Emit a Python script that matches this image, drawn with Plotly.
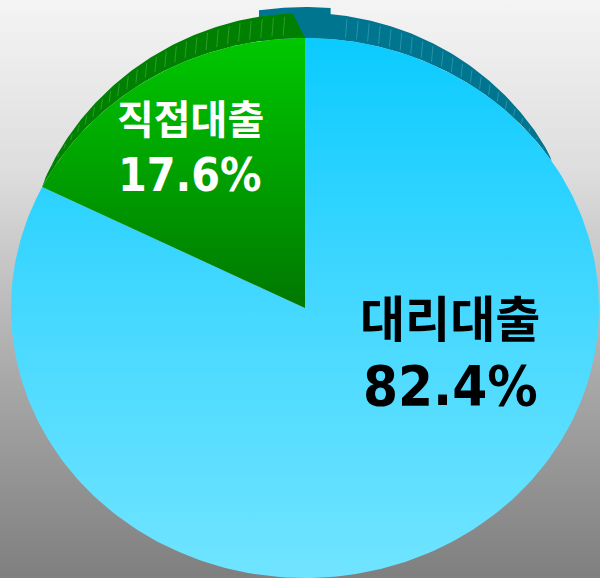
import numpy as np
import plotly.graph_objects as go

# ---- data ----
labels = ["직접대출", "대리대출"]
values = [17.6, 82.4]
label_colors = ["#ffffff", "#000000"]

# ---- geometry / style (pixel-like chart units) ----
W, H = 600, 578
cx, cy, rx, ry = 305, 308, 294, 270
depth = 25

def pt(theta_deg, lift=0.0):
    t = np.radians(theta_deg)
    return cx + rx * np.sin(t), cy - ry * np.cos(t) - lift

total = sum(values)
green_span = 360.0 * values[0] / total
g_start, g_end = -green_span, 0.0
b_start, b_end = 0.0, 360.0 - green_span

fig = go.Figure()

fig.add_trace(go.Scatter(
    x=[0, W, W, 0, 0], y=[0, 0, H, H, 0], mode="lines", fill="toself",
    line=dict(width=0), hoverinfo="skip",
    fillgradient=dict(type="vertical", start=0, stop=H,
                      colorscale=[[0, "#f4f4f4"], [0.3, "#dddddd"], [0.65, "#a9a9a9"], [1, "#7f7f7f"]]),
))

def band(t0, t1, hfun, t_outer_end=None, n=120):
    ts = np.linspace(t0, t1, n)
    to = np.linspace(t0, t_outer_end if t_outer_end is not None else t1, n)
    ox, oy = zip(*[pt(t, hfun(t)) for t in to])
    ix, iy = zip(*[pt(t) for t in ts[::-1]])
    return list(ox) + list(ix) + [ox[0]], list(oy) + list(iy) + [oy[0]]

def stripes(t0, t1, hfun, step=2.2):
    xs, ys = [], []
    for t in np.arange(t0 + step, t1, step):
        h = hfun(t)
        if h < 3:
            continue
        x0, y0 = pt(t)
        x1, y1 = pt(t, h)
        xs += [x0 - 1.5, x1, None]
        ys += [y0 - 3, y1 + 3, None]
    return xs, ys

c_g = np.cos(np.radians(g_start))
c_b = np.cos(np.radians(57))
h_green = lambda t: max(0.0, depth * ((np.cos(np.radians(t)) - c_g) / (1 - c_g)) ** 0.6)
h_blue = lambda t: max(0.0, depth * ((np.cos(np.radians(t)) - c_b) / (1 - c_b)) ** 0.6)
h_lip = lambda t: 31.0

teal = "#00758f"
dgreen = "#008000"

xs, ys = band(-9, 5, h_lip, n=30)
fig.add_trace(go.Scatter(x=xs, y=ys, mode="lines", fill="toself", fillcolor=teal,
                         line=dict(width=0), hoverinfo="skip"))
xs, ys = band(g_start, g_end, h_green, t_outer_end=g_end - 2.4)
fig.add_trace(go.Scatter(x=xs, y=ys, mode="lines", fill="toself", fillcolor=dgreen,
                         line=dict(width=0), hoverinfo="skip"))
sx, sy = stripes(g_start, g_end - 3, h_green)
fig.add_trace(go.Scatter(x=sx, y=sy, mode="lines", line=dict(width=0.8, color="rgba(140,210,140,0.4)"),
                         hoverinfo="skip"))
xs, ys = band(0, 57, h_blue)
fig.add_trace(go.Scatter(x=xs, y=ys, mode="lines", fill="toself", fillcolor=teal,
                         line=dict(width=0), hoverinfo="skip"))
sx, sy = stripes(6, 57, h_blue)
fig.add_trace(go.Scatter(x=sx, y=sy, mode="lines", line=dict(width=0.8, color="rgba(140,200,220,0.4)"),
                         hoverinfo="skip"))

def sector(t0, t1, n=240):
    ts = np.linspace(t0, t1, n)
    px, py = zip(*[pt(t) for t in ts])
    return [cx] + list(px) + [cx], [cy] + list(py) + [cy]

xs, ys = sector(b_start, b_end)
fig.add_trace(go.Scatter(x=xs, y=ys, mode="lines", fill="toself", line=dict(width=0),
                         hoverinfo="skip",
                         fillgradient=dict(type="vertical", start=cy - ry, stop=cy + ry,
                                           colorscale=[[0, "#0bcbff"], [0.5, "#45d8ff"], [1, "#70e4ff"]])))
xs, ys = sector(g_start, g_end)
fig.add_trace(go.Scatter(x=xs, y=ys, mode="lines", fill="toself", line=dict(width=0),
                         hoverinfo="skip",
                         fillgradient=dict(type="vertical", start=cy - ry, stop=cy,
                                           colorscale=[[0, "#00c800"], [1, "#007800"]])))

# (x centre, boundary y between the two lines, name size, percent size)
label_pos = [(190, 147, 40, 46), (450, 352, 49, 56)]
for lab, val, col, (lx, ly, fs1, fs2) in zip(labels, values, label_colors, label_pos):
    fig.add_annotation(x=lx, y=ly, yanchor="bottom", text=f"<b>{lab}</b>", showarrow=False,
                       borderpad=0,
                       font=dict(family="Noto Sans CJK KR", size=fs1, color=col))
    fig.add_annotation(x=lx, y=ly, yanchor="top", text=f"<b>{val:.1f}%</b>", showarrow=False,
                       borderpad=0,
                       font=dict(family="DejaVu Sans Condensed, Liberation Sans Narrow, sans-serif",
                                 size=fs2, color=col))

fig.update_layout(
    width=W, height=H, margin=dict(l=0, r=0, t=0, b=0),
    showlegend=False, paper_bgcolor="#ffffff", plot_bgcolor="#ffffff",
    xaxis=dict(range=[0, W], visible=False, fixedrange=True),
    yaxis=dict(range=[H, 0], visible=False, fixedrange=True),
)
fig.write_html("out.html", config={"displayModeBar": False},
               post_script="document.body.style.margin='0';document.body.style.overflow='hidden';")
